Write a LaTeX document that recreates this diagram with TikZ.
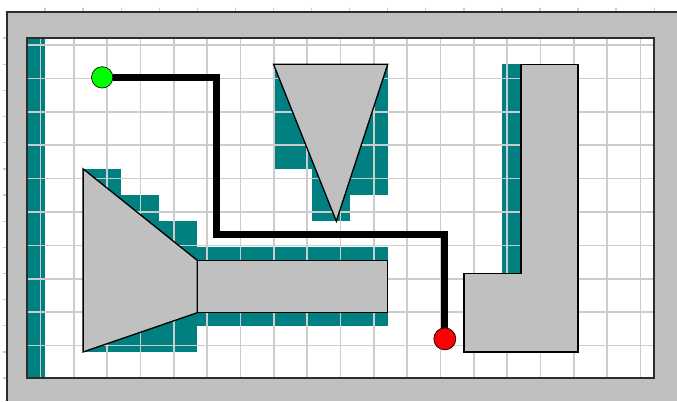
\documentclass[tikz,border=0pt]{standalone}
\usepackage{xcolor}
\usepackage{tikz}
\definecolor{mapgray}{RGB}{192,192,192}
\definecolor{mapteal}{RGB}{0,128,128}
\definecolor{mapgrid}{RGB}{204,204,204}
\definecolor{mapframe}{RGB}{45,45,45}

\begin{document}
\begin{tikzpicture}[x=1.1421cm, y=-0.7845cm,
  mixed/.style={fill=mapteal},
  gridline/.style={draw=mapgrid, line width=0.05cm},
  tick/.style={draw=mapgrid, line width=0.04cm},
  frame/.style={draw=mapframe, line width=0.06cm},
  obstacle/.style={fill=mapgray, draw=black, line width=0.04cm, line join=miter},
  route/.style={draw=black, line width=0.21cm, line join=miter},
  startdot/.style={circle, fill=green, draw=black, line width=0.02cm, minimum size=0.64cm, inner sep=0pt},
  goaldot/.style={circle, fill=red, draw=black, line width=0.02cm, minimum size=0.66cm, inner sep=0pt}
]
\useasboundingbox (-0.1839,-0.4589) rectangle (17.599,14.876);
% outer gray frame with ruler ticks
\fill[mapgray] (0,0) rectangle (17.599,14.876);
\foreach \i in {1,...,17} \draw[tick] (\i,-0.16) -- (\i,0);
\foreach \j in {1,...,14} \draw[tick] (-0.11,\j) -- (0,\j);
\draw[frame] (0,14.876) -- (0,0) -- (17.599,0);
% free space
\fill[white] (0.525,1) rectangle (17,14);
% partly occupied cells
\fill[mixed] (0.525,1) rectangle (1,14);
\foreach \a/\b/\c/\d in {2/6/3/7, 2/7/4/8, 2/8/5/9, 2/9/10/12, 2/12/5/13,
                         7/2/8/6, 8/2/9/8, 9/2/10/7, 13/2/14/10}
  \fill[mixed] (\a,\b) rectangle (\c,\d);
\draw[gridline] (0.525,1) grid (17,14);
% obstacles
\draw[obstacle] (2,6) -- (5,9.5) -- (5,11.5) -- (2,13) -- cycle;
\draw[obstacle] (5,9.5) rectangle (10,11.5);
\draw[obstacle] (7,2) -- (10,2) -- (8.65,8) -- cycle;
\draw[obstacle] (13.5,2) -- (15,2) -- (15,13) -- (12,13) -- (12,10) -- (13.5,10) -- cycle;
% start, goal and route
\node[startdot] (start) at (2.5,2.5) {};
\node[goaldot] (goal) at (11.5,12.5) {};
\coordinate (corner) at (5.5,8.5);
\draw[route] (start) -| (corner) -| (goal);
\draw[frame] (0.525,1) rectangle (17,14);
\end{tikzpicture}
\end{document}
